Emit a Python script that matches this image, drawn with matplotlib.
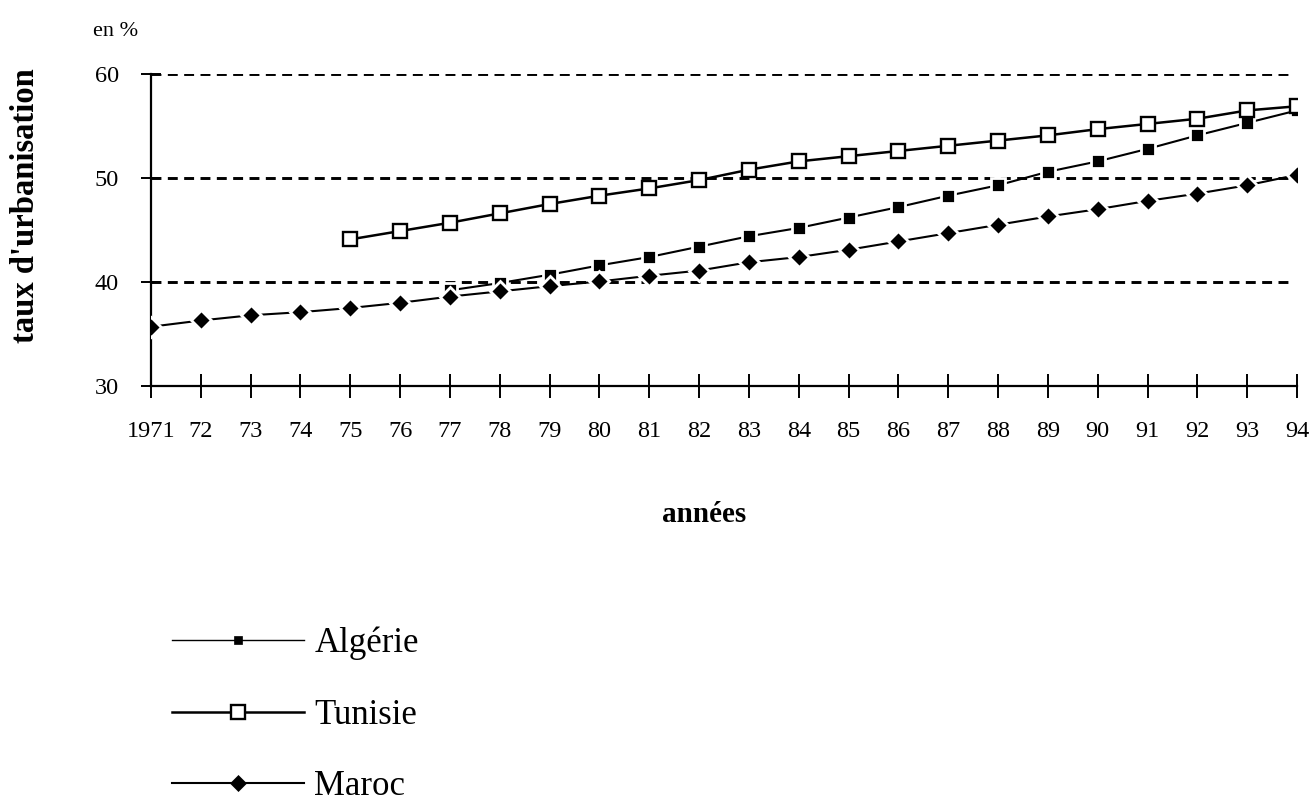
import matplotlib.pyplot as plt

plt.rcParams['font.family'] = ['Liberation Serif', 'DejaVu Serif']

years = list(range(1971, 1995))
year_labels = ['1971'] + [str(y)[2:] for y in years[1:]]

# taux d'urbanisation (en %)
algerie_years = list(range(1977, 1995))
algerie = [39.2, 39.9, 40.7, 41.6, 42.4, 43.4, 44.4, 45.2, 46.2, 47.2,
           48.3, 49.3, 50.6, 51.6, 52.8, 54.1, 55.3, 56.5]
tunisie_years = list(range(1975, 1995))
tunisie = [44.1, 44.9, 45.7, 46.6, 47.5, 48.3, 49.0, 49.8, 50.8, 51.6,
           52.1, 52.6, 53.1, 53.6, 54.1, 54.7, 55.2, 55.7, 56.5, 56.9]
maroc_years = years
maroc = [35.7, 36.3, 36.8, 37.1, 37.5, 38.0, 38.6, 39.1, 39.6, 40.05,
         40.6, 41.1, 41.9, 42.4, 43.1, 43.9, 44.7, 45.5, 46.3, 47.0,
         47.8, 48.5, 49.3, 50.3]

fig = plt.figure(figsize=(13.13, 8.02), dpi=100)
ax = fig.add_axes([0.115, 0.5187, 0.8728, 0.389])

# lignes de grille pointillées
for v in [40, 50, 60]:
    ax.axhline(v, xmax=0.996, color='black', lw=2.1, ls=(0, (3.4, 2.2)), zorder=1)

l_alg, = ax.plot(algerie_years, algerie, color='black', lw=1.5,
                 marker='s', markersize=9.5, markerfacecolor='black',
                 markeredgecolor='white', markeredgewidth=2, zorder=3)
l_tun, = ax.plot(tunisie_years, tunisie, color='black', lw=1.8,
                 marker='s', markersize=10.5, markerfacecolor='white',
                 markeredgecolor='black', markeredgewidth=1.7, zorder=4)
l_mar, = ax.plot(maroc_years, maroc, color='black', lw=1.5,
                 marker='D', markersize=10, markerfacecolor='black',
                 markeredgecolor='white', markeredgewidth=2, zorder=3)

ax.set_xlim(1971, 1994)
ax.set_ylim(30, 60)
ax.set_xticks(years)
ax.set_xticklabels(year_labels)
ax.set_yticks([30, 40, 50, 60])

for s in ['top', 'right']:
    ax.spines[s].set_visible(False)
for s in ['left', 'bottom']:
    ax.spines[s].set_linewidth(1.6)

ax.tick_params(axis='x', direction='inout', length=17, width=1.4,
               labelsize=17.5, pad=17)
ax.tick_params(axis='y', direction='inout', length=14, width=1.4,
               labelsize=17.5, pad=16)

ax.set_ylabel("taux d'urbanisation", fontsize=23.5, fontweight='bold')
ax.yaxis.set_label_coords(-0.096, 0.577)
ax.set_xlabel('années', fontsize=21, fontweight='bold')
ax.xaxis.set_label_coords(0.483, -0.37)

fig.text(93 / 1313, 1 - 32 / 802, 'en %', fontsize=16, va='center', ha='left')

leg = fig.legend([l_alg, l_tun, l_mar], ['Algérie', 'Tunisie', 'Maroc'],
                 loc='upper left', bbox_to_anchor=(172 / 1313, 1 - 627 / 802),
                 frameon=False, fontsize=25, handlelength=3.8,
                 handletextpad=0.3, labelspacing=1.1,
                 borderpad=0, borderaxespad=0)
for h in leg.legend_handles:
    h.set_markeredgecolor('black')
leg.legend_handles[0].set_markersize(6)
leg.legend_handles[0].set_markeredgewidth(0.5)
leg.legend_handles[0].set_linewidth(1.0)
leg.legend_handles[1].set_markersize(10)
leg.legend_handles[2].set_markersize(8)
leg.legend_handles[2].set_markeredgewidth(0.5)

fig.savefig('out.png', dpi=100)
